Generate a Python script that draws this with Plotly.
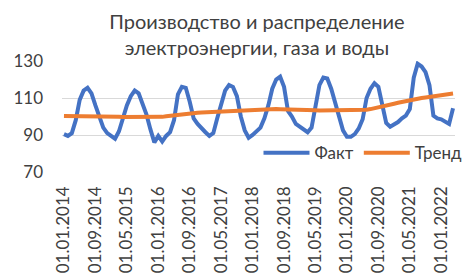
import pandas as pd
import plotly.graph_objects as go

months = pd.date_range("2014-01-01", periods=100, freq="MS")
categories = [d.strftime("%d.%m.%Y") for d in months]
tick_labels = categories[::8]

fact = [
    90.5, 89.5, 91.0, 98.0, 109.0, 114.0, 115.5, 112.5, 106.0, 99.5, 94.0, 91.0,
    89.5, 88.0, 92.0, 99.0, 106.0, 111.0, 114.0, 112.5, 107.0, 101.0, 93.0, 86.0,
    89.5, 86.5, 89.5, 91.5, 98.0, 112.0, 116.0, 115.5, 108.0, 99.0, 96.0, 93.5,
    91.5, 89.5, 91.0, 99.0, 107.0, 114.0, 117.0, 116.0, 111.0, 100.0, 92.5, 88.5,
    90.0, 92.0, 94.0, 99.0, 106.0, 115.0, 120.0, 121.5, 116.0, 103.0, 100.0, 96.0,
    94.5, 93.0, 91.5, 94.0, 107.0, 117.0, 121.0, 120.5, 115.0, 107.0, 100.0, 92.5,
    89.0, 89.0, 90.5, 93.5, 98.5, 110.0, 115.0, 118.0, 116.0, 106.0, 96.5, 94.5,
    95.5, 97.0, 99.0, 100.5, 104.0, 121.0, 128.5, 127.0, 124.0, 117.0, 100.5, 99.0,
    98.5, 97.5, 96.0, 104.5,
]

trend = [
    100.3, 100.3, 100.2, 100.2, 100.1, 100.1, 100.0, 100.0, 100.0, 99.9, 99.9, 99.9,
    99.8, 99.8, 99.8, 99.7, 99.7, 99.7, 99.6, 99.6, 99.6, 99.5, 99.5, 99.5,
    99.6, 99.8, 100.1, 100.4, 100.7, 101.0, 101.3, 101.5, 101.7, 101.9, 102.0, 102.1,
    102.2, 102.3, 102.4, 102.5, 102.6, 102.7, 102.8, 102.9, 103.0, 103.2, 103.4, 103.6,
    103.8, 103.9, 104.0, 104.0, 104.0, 104.0, 104.0, 103.9, 103.9, 103.8, 103.7, 103.6,
    103.5, 103.5, 103.4, 103.4, 103.4, 103.3, 103.3, 103.3, 103.3, 103.3, 103.3, 103.3,
    103.3, 103.3, 103.3, 103.4, 103.5, 103.7, 104.0, 104.4, 104.9, 105.4, 105.9, 106.4,
    106.9, 107.4, 107.9, 108.4, 108.8, 109.2, 109.6, 110.0, 110.3, 110.6, 110.9, 111.2,
    111.5, 111.8, 112.1, 112.4,
]

y_ticks = [70, 90, 110, 130]

FONT = "Lato"
TXT = "#404040"

fig = go.Figure()
fig.add_trace(go.Scatter(x=categories, y=fact, mode="lines", name="Факт",
                         line=dict(color="#4472C4", width=4)))
fig.add_trace(go.Scatter(x=categories, y=trend, mode="lines", name="Тренд",
                         line=dict(color="#ED7D31", width=4)))

fig.update_layout(
    width=462, height=275,
    margin=dict(l=62, r=7, t=61, b=103, autoexpand=False),
    paper_bgcolor="white", plot_bgcolor="white",
    font=dict(family=FONT, color=TXT, size=17),
    title=dict(text="Производство и распределение<br>электроэнергии, газа и воды",
               x=0.556, xanchor="center", y=0.893, yanchor="top",
               xref="container", yref="container", automargin=False,
               font=dict(family=FONT, size=20, color=TXT)),
    showlegend=True,
    legend=dict(orientation="h", x=0.5, xanchor="left", y=0.17, yanchor="middle",
                bgcolor="rgba(0,0,0,0)", font=dict(size=17, color=TXT),
                itemwidth=46, tracegroupgap=0, borderwidth=0),
    xaxis=dict(type="category", range=[-0.5, 99.5], tickmode="array",
               tickvals=tick_labels, ticktext=tick_labels, tickangle=-90,
               showgrid=False, showline=False, zeroline=False, ticks="",
               automargin=False,
               tickfont=dict(size=17, color=TXT), ticklabelstandoff=10),
    yaxis=dict(range=[70, 130], tickmode="array", tickvals=y_ticks,
               showgrid=True, gridcolor="#D9D9D9", gridwidth=1,
               showline=False, zeroline=False, ticks="", automargin=False,
               tickfont=dict(size=17, color=TXT), ticklabelstandoff=18),
)

fig.write_html("out.html",
               config={"displayModeBar": False, "staticPlot": True},
               post_script="document.body.style.margin='0px';document.body.style.overflow='hidden';")
